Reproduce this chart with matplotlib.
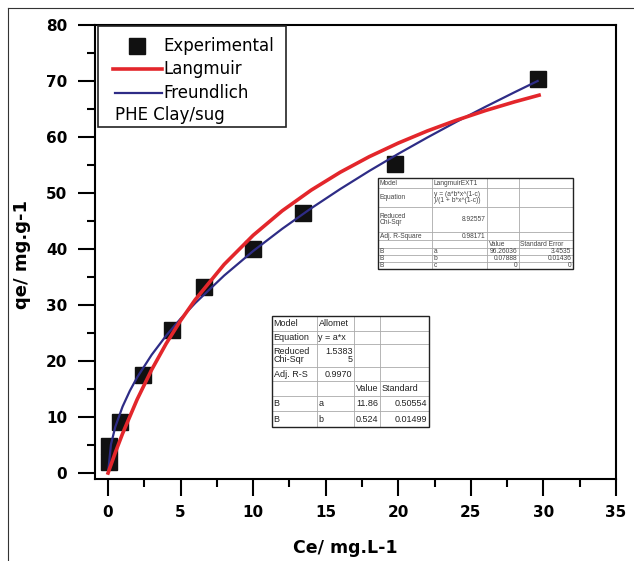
import numpy as np
import matplotlib
matplotlib.use("Agg")
import matplotlib.pyplot as plt
from matplotlib.patches import Rectangle

# experimental points
exp_x = [0.05, 0.05, 0.8, 2.4, 4.4, 6.6, 10.0, 13.4, 19.8, 29.6]
exp_y = [2.0, 4.8, 9.1, 17.5, 25.5, 33.2, 40.0, 46.5, 55.2, 70.4]

# fitted curves
freund_x = [0, 0.2, 0.5, 1, 1.5, 2, 3, 4, 5, 6, 8, 10, 12, 14, 16, 18, 20, 22, 24, 26, 28, 29.6]
freund_y = [0, 5.1, 8.25, 11.86, 14.67, 17.06, 21.09, 24.52, 27.56, 30.33, 35.26, 39.64,
            43.61, 47.28, 50.71, 53.94, 57.0, 59.91, 62.71, 65.39, 67.98, 70.0]
lang_x = [0, 0.5, 1, 2, 3, 4, 5, 6, 8, 10, 12, 14, 16, 18, 20, 22, 24, 26, 28, 29.7]
lang_y = [0, 3.65, 7.04, 13.12, 18.42, 23.09, 27.23, 30.93, 37.25, 42.45, 46.82, 50.52,
          53.71, 56.49, 58.92, 61.08, 62.99, 64.72, 66.27, 67.47]

legend_labels = ["Experimental", "Langmuir", "Freundlich"]
legend_note = "PHE Clay/sug"

# fit report tables as shown
lang_cells = [
    ["Model", "LangmuirEXT1", "", ""],
    ["Equation", "y = (a*b*x^(1-c)\n)/(1 + b*x^(1-c))", "", ""],
    ["Reduced\nChi-Sqr", "8.92557", "", ""],
    ["Adj. R-Square", "0.98171", "", ""],
    ["", "", "Value", "Standard Error"],
    ["B", "a", "96.26036", "3.4535"],
    ["B", "b", "0.07888", "0.01436"],
    ["B", "c", "0", "0"],
]
allo_cells = [
    ["Model", "Allomet", "", ""],
    ["Equation", "y = a*x", "", ""],
    ["Reduced\nChi-Sqr", "1.5383\n5", "", ""],
    ["Adj. R-S", "0.9970", "", ""],
    ["", "", "Value", "Standard"],
    ["B", "a", "11.86", "0.50554"],
    ["B", "b", "0.524", "0.01499"],
]

red = "#e3262b"
blue = "#2e2c86"

fig = plt.figure(figsize=(6.34, 5.61), dpi=100)
W, H = 634, 561
ax = fig.add_axes([95 / W, (H - 479) / H, (616 - 95) / W, (479 - 25) / H])

ax.plot(exp_x, exp_y, 's', color="#111111", markersize=12, zorder=2)
ax.plot(freund_x, freund_y, color=blue, lw=1.6, zorder=3)
ax.plot(lang_x, lang_y, color=red, lw=2.6, zorder=4)

ax.set_xlim(-0.9, 35)
ax.set_ylim(-1.07, 80)
ax.set_xticks(np.arange(0, 36, 5))
ax.set_xticks(np.arange(2.5, 35, 5), minor=True)
ax.set_yticks(np.arange(0, 81, 10))
ax.set_yticks(np.arange(5, 80, 10), minor=True)
for s in ax.spines.values():
    s.set_linewidth(1.5)
ax.tick_params(which='major', direction='out', length=12, width=1.5, labelsize=11)
ax.tick_params(which='minor', direction='out', length=6, width=1.5)
ax.tick_params(axis='x', which='major', pad=6.5)
ax.tick_params(axis='y', which='major', pad=8)
for lab in ax.get_xticklabels() + ax.get_yticklabels():
    lab.set_fontweight('bold')

ax.set_xlabel("Ce/ mg.L-1", fontsize=12.5, fontweight='bold', va='center')
ax.xaxis.set_label_coords((345 - 95) / 521, (479 - 548) / 454)
ax.set_ylabel("qe/ mg.g-1", fontsize=13, fontweight='bold', va='center')
ax.yaxis.set_label_coords((22 - 95) / 521, (479 - 255) / 454)

# overlay in pixel coordinates for legend, tables and outer frame
ov = fig.add_axes([0, 0, 1, 1], zorder=5)
ov.set_xlim(0, W)
ov.set_ylim(H, 0)
ov.axis('off')
ov.patch.set_visible(False)

ov.plot([8, W], [8, 8], color="#333333", lw=0.8)
ov.plot([8, 8], [8, H], color="#333333", lw=0.8)

# legend box
ov.add_patch(Rectangle((98, 26), 188, 101, fc='white', ec='#222222', lw=1.2))
ov.plot([137], [46], 's', color="#111111", markersize=12)
ov.plot([113, 162], [69, 69], color=red, lw=2.6)
ov.plot([115, 162], [93, 93], color=blue, lw=1.6)
for lab, yy in zip(legend_labels, [46, 69, 93]):
    ov.text(163, yy, lab, fontsize=12, va='center', ha='left')
ov.text(115, 115, legend_note, fontsize=12, va='center', ha='left')


def is_num(t):
    try:
        float(t.replace("\n", ""))
        return True
    except ValueError:
        return False


def draw_table(cols, rows, cells, fs, tcolor):
    ov.add_patch(Rectangle((cols[0], rows[0]), cols[-1] - cols[0], rows[-1] - rows[0],
                           fc='white', ec='none', zorder=1))
    for x in cols[1:-1]:
        ov.plot([x, x], [rows[0], rows[-1]], color='#aaaaaa', lw=0.6, zorder=2)
    for y in rows[1:-1]:
        ov.plot([cols[0], cols[-1]], [y, y], color='#aaaaaa', lw=0.6, zorder=2)
    ov.add_patch(Rectangle((cols[0], rows[0]), cols[-1] - cols[0], rows[-1] - rows[0],
                           fc='none', ec='#222222', lw=1.0, zorder=3))
    for i, row in enumerate(cells):
        yc = (rows[i] + rows[i + 1]) / 2
        for j, txt in enumerate(row):
            if not txt:
                continue
            if is_num(txt):
                ov.text(cols[j + 1] - 1.5, yc, txt, fontsize=fs, ha='right', va='center',
                        color=tcolor, family='Liberation Sans', linespacing=0.95, zorder=4)
            else:
                ov.text(cols[j] + 1.5, yc, txt, fontsize=fs, ha='left', va='center',
                        color=tcolor, family='Liberation Sans', linespacing=0.95, zorder=4)


draw_table([378, 432, 487, 519, 573], [178, 188, 207, 232, 240, 248, 255, 262, 269],
           lang_cells, 4.8, '#444444')
draw_table([272, 317, 354, 380, 429], [316, 331, 344, 367, 381, 396, 411, 427],
           allo_cells, 6.5, '#222222')

fig.savefig("out.png", dpi=100)
